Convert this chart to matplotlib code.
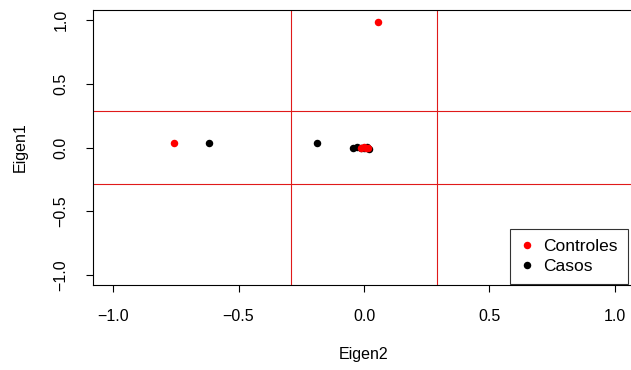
import matplotlib.pyplot as plt

plt.rcParams['font.family'] = ['Liberation Sans', 'DejaVu Sans']

# valeurs propres (Eigen2 en x, Eigen1 en y)
casos_x = [-0.617, -0.187, -0.044, -0.028, -0.012, 0.0, 0.012, 0.02]
casos_y = [0.033, 0.033, 0.0, 0.004, -0.004, 0.0, 0.002, -0.008]
controles_x = [-0.757, 0.056, -0.01, 0.0, 0.008, 0.015]
controles_y = [0.033, 0.988, 0.0, 0.005, -0.005, 0.0]

seuil = 0.29          # lignes de coupure
ticks = [-1.0, -0.5, 0.0, 0.5, 1.0]

fig = plt.figure(figsize=(6.31, 3.70), dpi=100)
# zone de tracé (coordonnées figure), elle dépasse un peu à droite
ax = fig.add_axes([93 / 631, 85 / 370, 542 / 631, 275 / 370])
ax.set_xlim(-1.08, 1.08)
ax.set_ylim(-1.08, 1.08)

for v in (-seuil, seuil):
    ax.axvline(v, color='#e01a1a', lw=0.8, zorder=1)
    ax.axhline(v, color='#e01a1a', lw=0.8, zorder=1)

ax.plot(casos_x, casos_y, 'o', color='black', ms=5.4, mew=0, zorder=2)
ax.plot(controles_x, controles_y, 'o', color='red', ms=5.4, mew=0, zorder=3)

ax.set_xticks(ticks)
ax.set_yticks(ticks)
ax.set_xticklabels([f"{t:.1f}".replace('-', '\u2212') for t in ticks])
ax.set_yticklabels([f"{t:.1f}".replace('-', '\u2212') for t in ticks],
                   rotation=90, va='center')
ax.tick_params(direction='out', length=5, width=0.8, labelsize=11.5, pad=12.5)
for s in ax.spines.values():
    s.set_linewidth(0.8)

ax.set_xlabel("Eigen2", fontsize=11.5, labelpad=16)
ax.set_ylabel("Eigen1", fontsize=11.5, labelpad=19)

h1, = ax.plot([], [], 'o', color='red', ms=5.4, mew=0, label='Controles')
h2, = ax.plot([], [], 'o', color='black', ms=5.4, mew=0, label='Casos')
leg = fig.legend(handles=[h1, h2], loc='lower right',
                 bbox_to_anchor=(628 / 631, 86 / 370),
                 fontsize=12.5, frameon=True, fancybox=False,
                 edgecolor='black', handlelength=0.7, handletextpad=0.6,
                 borderpad=0.6, labelspacing=0.25, borderaxespad=0)
leg.get_frame().set_linewidth(0.8)

fig.savefig("out.png", dpi=100)
